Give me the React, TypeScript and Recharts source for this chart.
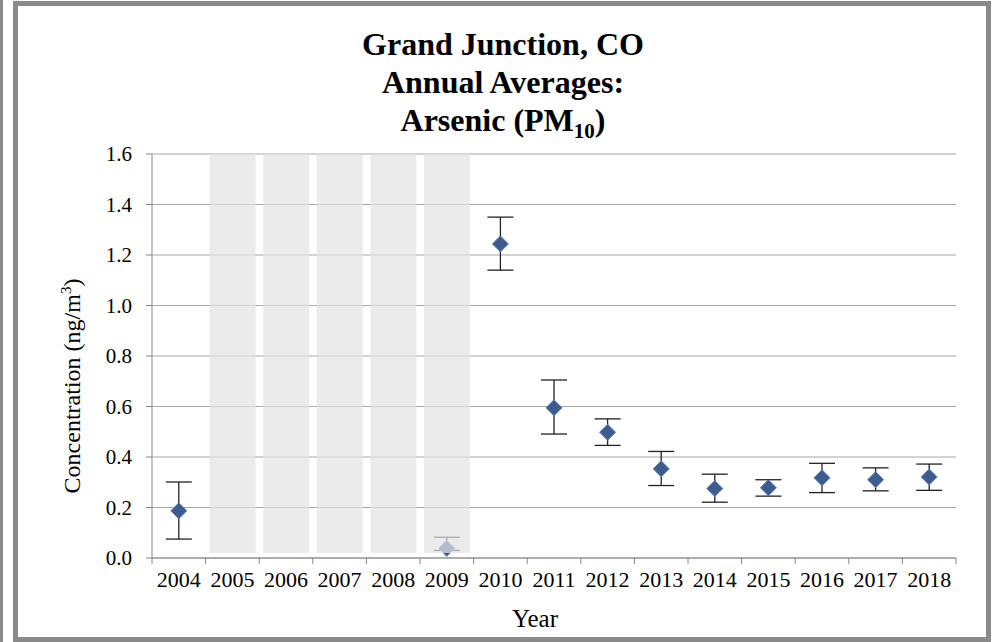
import * as React from "react"
import {
  Bar,
  CartesianGrid,
  ComposedChart,
  ErrorBar,
  Scatter,
  XAxis,
  YAxis,
} from "recharts"

const years = ["2004", "2005", "2006", "2007", "2008", "2009", "2010", "2011", "2012", "2013", "2014", "2015", "2016", "2017", "2018"]
const means = [0.187, null, null, null, null, 0.038, 1.244, 0.595, 0.498, 0.353, 0.275, 0.278, 0.318, 0.31, 0.321]
const lower = [0.075, null, null, null, null, 0.03, 1.14, 0.491, 0.446, 0.287, 0.221, 0.245, 0.259, 0.266, 0.268]
const upper = [0.301, null, null, null, null, 0.082, 1.35, 0.705, 0.551, 0.422, 0.332, 0.31, 0.375, 0.357, 0.372]
const shadedYears = ["2005", "2006", "2007", "2008", "2009"]
const shadeLow = 0.02
const shadeHigh = 1.6
const yTicks = [0, 0.2, 0.4, 0.6, 0.8, 1.0, 1.2, 1.4, 1.6]

const table = years.map((year, i) => ({
  year,
  mean: means[i],
  err: means[i] == null ? null : [means[i]! - lower[i]!, upper[i]! - means[i]!],
  shade: shadedYears.includes(year) ? [shadeLow, shadeHigh] : null,
}))
const points = table.filter((d) => d.mean != null)

const FONT = '"Liberation Serif", "Times New Roman", serif'
const AXIS = "#868686"

const Diamond = (props: any) => {
  const { cx, cy } = props
  if (!Number.isFinite(cx) || !Number.isFinite(cy)) return null
  const r = 8
  return (
    <polygon
      points={`${cx},${cy - r} ${cx + r},${cy} ${cx},${cy + r} ${cx - r},${cy}`}
      fill="#3d5b8d"
      stroke="#5c80bd"
      strokeWidth={1}
    />
  )
}

const YearTick = (props: any) => {
  const { x, y, payload, index, width, visibleTicksCount } = props
  const count = visibleTicksCount || years.length
  const half = (width || 803.5) / count / 2
  const top = y - 6
  return (
    <g>
      <line x1={x - half} x2={x - half} y1={top} y2={top + 6} stroke={AXIS} />
      {index === count - 1 && (
        <line x1={x + half} x2={x + half} y1={top} y2={top + 6} stroke={AXIS} />
      )}
      <text x={x} y={top + 29} textAnchor="middle" fill="#000" fontSize={22} fontFamily={FONT}>
        {payload.value}
      </text>
    </g>
  )
}

export default function App() {
  return (
    <div style={{ position: "absolute", left: 0, top: 0, width: 996, height: 642, background: "#fff", overflow: "hidden", fontFamily: FONT }}>
      <div style={{ position: "absolute", left: 0, top: 0, width: 3, height: 642, background: "#8a8a8a" }} />
      <div
        style={{
          position: "absolute",
          left: 13,
          top: 1,
          width: 978,
          height: 641,
          border: "5px solid #8a8a8a",
          boxSizing: "border-box",
        }}
      />
      <div
        style={{
          position: "absolute",
          left: 0,
          width: 1006,
          top: 25,
          textAlign: "center",
          fontSize: 32,
          fontWeight: "bold",
          lineHeight: "38px",
          color: "#000",
        }}
      >
        <div>Grand Junction, CO</div>
        <div>Annual Averages:</div>
        <div>
          Arsenic (PM<sub style={{ fontSize: 21, lineHeight: 0 }}>10</sub>)
        </div>
      </div>
      <div style={{ position: "absolute", left: 0, top: 20 }}>
        <ComposedChart
          width={996}
          height={600}
          data={table}
          margin={{ top: 134, right: 40, bottom: 32, left: 94 }}
        >
          <CartesianGrid vertical={false} stroke="#a6a6a6" />
          <XAxis
            dataKey="year"
            type="category"
            allowDuplicatedCategory={false}
            interval={0}
            height={30}
            tickLine={false}
            tickSize={6}
            tickMargin={0}
            axisLine={{ stroke: AXIS }}
            tick={<YearTick />}
          />
          <YAxis
            domain={[0, 1.6]}
            ticks={yTicks}
            width={58}
            tickFormatter={(v: number) => v.toFixed(1)}
            tickSize={6}
            tickMargin={14}
            axisLine={{ stroke: AXIS }}
            tickLine={{ stroke: AXIS }}
            tick={{ fill: "#000", fontSize: 21, fontFamily: FONT }}
          />
          <Scatter data={points} dataKey="mean" shape={<Diamond />} isAnimationActive={false}>
            <ErrorBar dataKey="err" direction="y" width={13} stroke="#222" strokeWidth={1.3} />
          </Scatter>
          <Bar
            dataKey="shade"
            barSize={46}
            fill="#e3e3e3"
            fillOpacity={0.72}
            isAnimationActive={false}
            zIndex={1000}
          />
        </ComposedChart>
      </div>
      <div
        style={{
          position: "absolute",
          left: 72,
          top: 386,
          transform: "translate(-50%, -50%) rotate(-90deg)",
          whiteSpace: "nowrap",
          fontSize: 24,
          color: "#000",
        }}
      >
        Concentration (ng/m<sup style={{ fontSize: 15, lineHeight: 0 }}>3</sup>)
      </div>
      <div style={{ position: "absolute", left: 485, width: 100, top: 604, textAlign: "center", fontSize: 25, lineHeight: "30px", color: "#000" }}>
        Year
      </div>
    </div>
  )
}
